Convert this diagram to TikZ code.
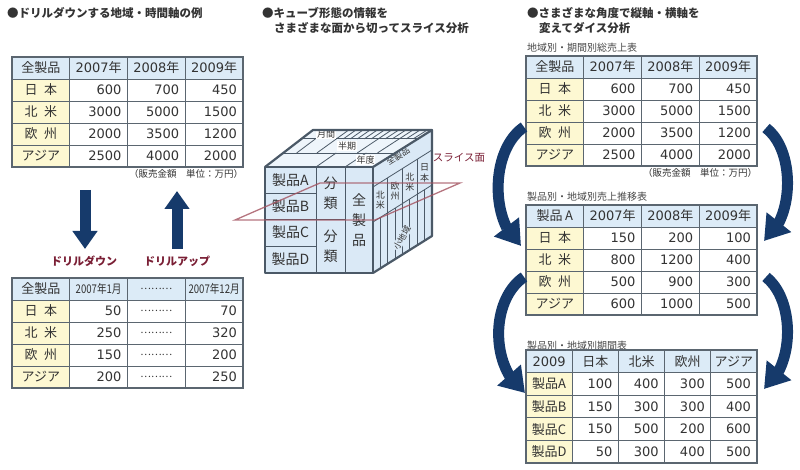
\documentclass[tikz,border=0pt]{standalone}
\usepackage{fontspec}
\setmainfont{Noto Sans CJK JP}
\newfontfamily\numfont{DejaVu Sans}
\usetikzlibrary{arrows.meta,bending,positioning}
\definecolor{tblline}{HTML}{5B6670}
\definecolor{headblue}{HTML}{DCEBF7}
\definecolor{labyellow}{HTML}{FDF8D2}
\definecolor{txt}{HTML}{333333}
\definecolor{navy}{HTML}{163A6B}
\definecolor{drillred}{HTML}{7A1F35}
\definecolor{cubeline}{HTML}{4B5967}
\definecolor{cubefill}{HTML}{DAE9F6}
\definecolor{topfill}{HTML}{EEF5FB}
\definecolor{slicered}{HTML}{A3525F}
\newcommand\yr[1]{{\numfont #1}年}
\tikzstyle{cell}=[draw=tblline, line width=.7pt, inner sep=0pt, minimum height=22pt,
  text=txt, font=\fontsize{13}{13}\selectfont]
\tikzstyle{head}=[cell, fill=headblue, minimum width=57.75pt]
\tikzstyle{lab}=[cell, fill=labyellow, minimum width=57.75pt]
\tikzstyle{num}=[cell, fill=white, inner xsep=6pt, text width=45.75pt, align=right,
  font=\numfont\fontsize{13}{13}\selectfont]
\tikzstyle{dotc}=[cell, fill=white, minimum width=57.75pt, font=\fontsize{10}{10}\selectfont]
\tikzstyle{frame}=[draw=tblline, line width=2pt]
\tikzstyle{title}=[anchor=west, inner sep=0pt, text=txt, font=\fontsize{11.5}{11.5}\selectfont\bfseries]
\tikzstyle{subttl}=[anchor=west, inner sep=0pt, text=txt!90, font=\fontsize{10}{10}\selectfont]
\tikzstyle{note}=[anchor=north east, inner sep=0pt, text=txt, font=\fontsize{9.5}{9.5}\selectfont]
\tikzstyle{fat}=[navy, line width=11pt, -{Triangle[length=18pt,width=24pt]}]
\tikzstyle{dice}=[navy, line width=11pt, -{Triangle[length=24pt,width=30pt]}]
\tikzstyle{drill}=[inner sep=0pt, text=drillred, font=\fontsize{11}{11}\selectfont\bfseries]
\tikzstyle{cubeedge}=[draw=cubeline, line width=2.2pt, line join=round]
\tikzstyle{cubein}=[draw=cubeline, line width=.8pt]
\tikzstyle{cubetxt}=[inner sep=0pt, text=txt, font=\fontsize{14}{20}\selectfont, align=center]
\tikzstyle{facetxt}=[inner sep=.6pt, text=txt, font=\fontsize{9}{10.5}\selectfont, align=center]
\tikzstyle{slice}=[draw=slicered, line width=1.3pt, opacity=.8]

\begin{document}
\begin{tikzpicture}[x=1pt, y=-1pt]
\useasboundingbox (0,0) rectangle (800,470);

% titles
\node[title] (ttl-a) at (7,13) {●ドリルダウンする地域・時間軸の例};
\node[title] (ttl-b1) at (262,13) {●キューブ形態の情報を};
\node[title] (ttl-b2) at (274,28) {さまざまな面から切ってスライス分析};
\node[title] (ttl-c1) at (527,13) {●さまざまな角度で縦軸・横軸を};
\node[title] (ttl-c2) at (539,28) {変えてダイス分析};

% region x year, left
\foreach \h [count=\ci from 0] in {全製品,\yr{2007},\yr{2008},\yr{2009}}
  \node[head] (ta-0-\ci) at ({40.875+57.75*\ci},68) {\h};
\foreach \lab/\va/\vb/\vc [count=\ri] in {日\hspace{.5em}本/600/700/450,北\hspace{.5em}米/3000/5000/1500,欧\hspace{.5em}州/2000/3500/1200,アジア/2500/4000/2000} {
  \node[lab] (ta-\ri-0) at (40.875,{68+22*\ri}) {\lab};
  \node[num] (ta-\ri-1) at (98.625,{68+22*\ri}) {\va};
  \node[num] (ta-\ri-2) at (156.375,{68+22*\ri}) {\vb};
  \node[num] (ta-\ri-3) at (214.125,{68+22*\ri}) {\vc};
}
\draw[frame] (ta-0-0.north west) rectangle (ta-4-3.south east);
\node[note] (nt-a) at ([yshift=-2pt]ta-4-3.south east) {（販売金額　単位：万円）};

% drill down / up
\coordinate (dd-s) at (85,190);
\coordinate (dd-e) at (85,249);
\coordinate (du-s) at (177,249);
\coordinate (du-e) at (177,191);
\draw[fat] (dd-s) -- (dd-e);
\draw[fat] (du-s) -- (du-e);
\node[drill] (dd-lab) at (84,261) {ドリルダウン};
\node[drill] (du-lab) at (177,261) {ドリルアップ};

% region x month, left
\node[head] (tb-0-0) at (40.875,289) {全製品};
\node[head] (tb-0-1) at (98.625,289) {\scalebox{.8}[1]{\fontsize{12}{12}\selectfont 2007年1月}};
\node[dotc, fill=headblue] (tb-0-2) at (156.375,289) {………};
\node[head] (tb-0-3) at (214.125,289) {\scalebox{.8}[1]{\fontsize{12}{12}\selectfont 2007年12月}};
\foreach \lab/\va/\vc [count=\ri] in {日\hspace{.5em}本/50/70,北\hspace{.5em}米/250/320,欧\hspace{.5em}州/150/200,アジア/200/250} {
  \node[lab] (tb-\ri-0) at (40.875,{289+22*\ri}) {\lab};
  \node[num] (tb-\ri-1) at (98.625,{289+22*\ri}) {\va};
  \node[dotc] (tb-\ri-2) at (156.375,{289+22*\ri}) {………};
  \node[num] (tb-\ri-3) at (214.125,{289+22*\ri}) {\vc};
}
\draw[frame] (tb-0-0.north west) rectangle (tb-4-3.south east);

% cube
\coordinate (cA) at (265,167);
\coordinate (cB) at (373,167);
\coordinate (cC) at (373,273);
\coordinate (cD) at (265,273);
\coordinate (cE) at (432,130);
\coordinate (cF) at (432,236);
\coordinate (cG) at (313,130);
\fill[cubefill] (cA) -- (cB) -- (cC) -- (cD) -- cycle;
\fill[cubefill] (cB) -- (cE) -- (cF) -- (cC) -- cycle;
\fill[topfill] (cA) -- (cB) -- (cE) -- (cG) -- cycle;
% top face: 年度 / 半期 / 月間
\foreach \sd in {0.38,0.76}
  \draw[cubein] ({265+48*\sd},{167-37*\sd}) -- ({373+59*\sd},{167-37*\sd});
\foreach \tp in {0.472,0.741}
  \draw[cubein] ({265+108*\tp},167) -- ({265+108*\tp+0.38*(48+11*\tp)},{167-37*0.38});
\foreach \tp in {0.12,0.3,0.66,0.84}
  \draw[cubein] ({265+108*\tp+0.38*(48+11*\tp)},{167-37*0.38}) -- ({265+108*\tp+0.76*(48+11*\tp)},{167-37*0.76});
\foreach \tp in {0.30,0.36,...,0.96}
  \draw[cubein] ({265+108*\tp+0.76*(48+11*\tp)},{167-37*0.76}) -- ({265+108*\tp+48+11*\tp},130);
\node[facetxt, fill=white] (t-month) at (326,134) {月間};
\node[facetxt, fill=white] (t-half) at (347,146) {半期};
\node[facetxt, fill=white] (t-year) at (365.5,160) {年度};
% front face
\draw[cubein] (316,167) -- (316,273) (345,167) -- (345,273);
\foreach \y in {193,219,246}
  \draw[cubein] (265,\y) -- (316,\y);
\draw[cubein] (316,219) -- (345,219);
\foreach \pl/\yy in {A/180,B/206,C/232,D/259}
  \node[cubetxt] (f-\pl) at (290.5,\yy) {製品\pl};
\node[cubetxt] (f-cls1) at (330.5,193) {分\\類};
\node[cubetxt] (f-cls2) at (330.5,246) {分\\類};
\node[cubetxt] (f-all) at (359,220) {全\\製\\品};
% right face
\foreach \vv in {20,55}
  \draw[cubein] (373,{167+\vv}) -- (432,{130+\vv});
\foreach \ud in {0.25,0.5,0.75}
  \draw[cubein] ({373+59*\ud},{187-37*\ud}) -- ({373+59*\ud},{222-37*\ud});
\foreach \ud in {0.125,0.25,...,0.875}
  \draw[cubein] ({373+59*\ud},{222-37*\ud}) -- ({373+59*\ud},{273-37*\ud});
\node[facetxt, rotate=32, font=\fontsize{8.5}{8.5}\selectfont] (r-all) at (398,156.5) {全製品};
\node[facetxt] (r-na1) at (380.4,200) {北\\米};
\node[facetxt] (r-eu) at (395.1,191) {欧\\州};
\node[facetxt] (r-na2) at (409.9,182) {北\\米};
\node[facetxt] (r-jp) at (424.6,173) {日\\本};
\node[facetxt, fill=cubefill, rotate=60, font=\fontsize{8.5}{8.5}\selectfont] (r-sub) at (402,238) {小地域};
\draw[cubeedge] (cA) -- (cB) -- (cC) -- (cD) -- cycle;
\draw[cubeedge] (cB) -- (cE) -- (cF) -- (cC);
\draw[cubeedge] (cA) -- (cG) -- (cE);

% slice plane
\coordinate (sl-a) at (235,220);
\coordinate (sl-b) at (375,220);
\coordinate (sl-c) at (460,183);
\coordinate (sl-d) at (320,183);
\draw[slice] (sl-a) -- (sl-b) -- (sl-c) -- (sl-d) -- cycle;
\node[drill, font=\fontsize{10.5}{10.5}\selectfont] (sl-lab) at (459,158) {スライス面};

% dice, right
\node[subttl] (st-a) at (527,48) {地域別・期間別総売上表};
\foreach \h [count=\ci from 0] in {全製品,\yr{2007},\yr{2008},\yr{2009}}
  \node[head] (tc-0-\ci) at ({554.875+57.75*\ci},67) {\h};
\foreach \lab/\va/\vb/\vc [count=\ri] in {日\hspace{.5em}本/600/700/450,北\hspace{.5em}米/3000/5000/1500,欧\hspace{.5em}州/2000/3500/1200,アジア/2500/4000/2000} {
  \node[lab] (tc-\ri-0) at (554.875,{67+22*\ri}) {\lab};
  \node[num] (tc-\ri-1) at (612.625,{67+22*\ri}) {\va};
  \node[num] (tc-\ri-2) at (670.375,{67+22*\ri}) {\vb};
  \node[num] (tc-\ri-3) at (728.125,{67+22*\ri}) {\vc};
}
\draw[frame] (tc-0-0.north west) rectangle (tc-4-3.south east);
\node[note] (nt-c) at ([yshift=-2pt]tc-4-3.south east) {（販売金額　単位：万円）};

\node[subttl] (st-b) at (527,197) {製品別・地域別売上推移表};
\foreach \h [count=\ci from 0] in {製品\hspace{.2em}A,\yr{2007},\yr{2008},\yr{2009}}
  \node[head] (td-0-\ci) at ({554.875+57.75*\ci},216) {\h};
\foreach \lab/\va/\vb/\vc [count=\ri] in {日\hspace{.5em}本/150/200/100,北\hspace{.5em}米/800/1200/400,欧\hspace{.5em}州/500/900/300,アジア/600/1000/500} {
  \node[lab] (td-\ri-0) at (554.875,{216+22*\ri}) {\lab};
  \node[num] (td-\ri-1) at (612.625,{216+22*\ri}) {\va};
  \node[num] (td-\ri-2) at (670.375,{216+22*\ri}) {\vb};
  \node[num] (td-\ri-3) at (728.125,{216+22*\ri}) {\vc};
}
\draw[frame] (td-0-0.north west) rectangle (td-4-3.south east);

\node[subttl] (st-c) at (527,346) {製品別・地域別期間表};
\begin{scope}[cell/.append style={minimum height=22.6pt},
  head/.append style={minimum width=46.2pt}, lab/.append style={minimum width=46.2pt},
  num/.append style={text width=34.2pt}]
\foreach \h [count=\ci from 0] in {{\numfont 2009},日本,北米,欧州,アジア}
  \node[head] (te-0-\ci) at ({549.1+46.2*\ci},361.3) {\h};
\foreach \lab/\va/\vb/\vc/\vd [count=\ri] in {製品A/100/400/300/500,製品B/150/300/300/400,製品C/150/500/200/600,製品D/50/300/400/500} {
  \node[lab] (te-\ri-0) at (549.1,{361.3+22.6*\ri}) {\lab};
  \node[num] (te-\ri-1) at (595.3,{361.3+22.6*\ri}) {\va};
  \node[num] (te-\ri-2) at (641.5,{361.3+22.6*\ri}) {\vb};
  \node[num] (te-\ri-3) at (687.7,{361.3+22.6*\ri}) {\vc};
  \node[num] (te-\ri-4) at (733.9,{361.3+22.6*\ri}) {\vd};
}
\end{scope}
\draw[frame] (te-0-0.north west) rectangle (te-4-4.south east);

% dice arrows
\coordinate (dl1-s) at (524,127);
\coordinate (dl1-e) at (521,246);
\coordinate (dl2-s) at (524,277);
\coordinate (dl2-e) at (525,393);
\coordinate (dr1-s) at (766,128);
\coordinate (dr1-e) at (764,241);
\coordinate (dr2-s) at (766,277);
\coordinate (dr2-e) at (764,389);
\draw[dice] (dl1-s) .. controls (490,150) and (490,222) .. (dl1-e);
\draw[dice] (dl2-s) .. controls (490,300) and (490,368) .. (dl2-e);
\draw[dice] (dr1-s) .. controls (795,150) and (795,218) .. (dr1-e);
\draw[dice] (dr2-s) .. controls (795,300) and (795,366) .. (dr2-e);

\end{tikzpicture}
\end{document}
